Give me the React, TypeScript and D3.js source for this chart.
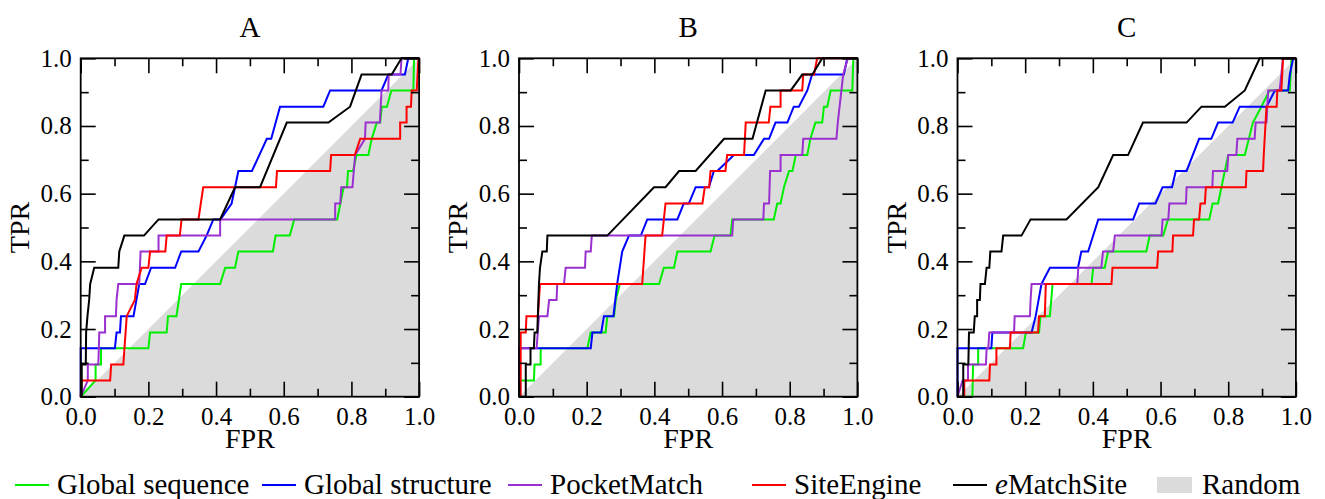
import React, { useEffect, useRef } from "react";
import * as d3 from "d3";

// panels and series
const panelNames = ["A", "B", "C"];
const seriesNames = ["Global sequence", "Global structure", "PocketMatch", "SiteEngine", "eMatchSite"];
const seriesColors = ["#00ee00", "#0000ff", "#9b30d0", "#ff0000", "#000000"];
const majorTicks = [0, 0.2, 0.4, 0.6, 0.8, 1.0];
const minorTicks = [0.1, 0.3, 0.5, 0.7, 0.9];
const randomLine = [[0, 0], [1, 1]];

// ROC points [FPR, TPR], panel A
const globalSequenceA = [[0,0],[0.044,0.048],[0.044,0.095],[0.06,0.095],[0.06,0.143],[0.2,0.143],[0.205,0.19],[0.254,0.19],[0.258,0.238],[0.283,0.238],[0.297,0.333],[0.412,0.333],[0.427,0.381],[0.456,0.381],[0.466,0.429],[0.568,0.429],[0.576,0.476],[0.618,0.476],[0.631,0.524],[0.758,0.524],[0.777,0.619],[0.787,0.619],[0.79,0.667],[0.805,0.667],[0.815,0.714],[0.85,0.714],[0.86,0.762],[0.875,0.81],[0.885,0.81],[0.89,0.857],[0.905,0.857],[0.918,0.905],[0.983,0.905],[0.985,1],[1,1]];
const globalStructureA = [[0,0],[0,0.143],[0.101,0.143],[0.106,0.19],[0.116,0.19],[0.119,0.238],[0.156,0.238],[0.173,0.333],[0.19,0.333],[0.208,0.381],[0.279,0.381],[0.297,0.429],[0.348,0.429],[0.372,0.476],[0.392,0.524],[0.413,0.524],[0.446,0.571],[0.466,0.667],[0.506,0.667],[0.55,0.762],[0.563,0.762],[0.589,0.857],[0.717,0.857],[0.737,0.905],[0.889,0.905],[0.909,0.952],[0.958,0.952],[0.968,1],[1,1]];
const pocketMatchA = [[0,0],[0.021,0.048],[0.021,0.095],[0.052,0.095],[0.055,0.19],[0.072,0.19],[0.072,0.238],[0.104,0.238],[0.106,0.286],[0.111,0.333],[0.173,0.333],[0.177,0.429],[0.23,0.429],[0.23,0.476],[0.412,0.476],[0.412,0.524],[0.752,0.524],[0.752,0.571],[0.767,0.571],[0.77,0.619],[0.803,0.619],[0.811,0.714],[0.84,0.762],[0.842,0.81],[0.884,0.81],[0.889,0.905],[0.909,0.905],[0.91,0.952],[0.945,0.952],[0.948,1],[1,1]];
const siteEngineA = [[0,0],[0.003,0.048],[0.087,0.048],[0.09,0.095],[0.126,0.095],[0.136,0.238],[0.16,0.286],[0.165,0.333],[0.18,0.381],[0.2,0.381],[0.205,0.429],[0.25,0.429],[0.254,0.476],[0.293,0.476],[0.298,0.524],[0.348,0.524],[0.362,0.619],[0.577,0.619],[0.58,0.667],[0.737,0.667],[0.74,0.714],[0.81,0.714],[0.826,0.762],[0.944,0.762],[0.944,0.81],[0.963,0.81],[0.963,0.857],[0.976,0.857],[0.978,0.905],[0.993,0.905],[0.998,1],[1,1]];
const eMatchSiteA = [[0,0],[0.003,0],[0.003,0.095],[0.015,0.095],[0.016,0.19],[0.02,0.238],[0.025,0.286],[0.028,0.333],[0.04,0.381],[0.111,0.381],[0.114,0.429],[0.129,0.476],[0.187,0.476],[0.23,0.524],[0.412,0.524],[0.456,0.619],[0.53,0.619],[0.609,0.81],[0.732,0.81],[0.796,0.857],[0.83,0.952],[0.919,0.952],[0.948,1],[1,1]];

// panel B
const globalSequenceB = [[0,0],[0,0.048],[0.044,0.048],[0.046,0.095],[0.064,0.095],[0.064,0.143],[0.202,0.143],[0.212,0.19],[0.256,0.19],[0.261,0.238],[0.281,0.238],[0.286,0.286],[0.298,0.333],[0.414,0.333],[0.428,0.381],[0.458,0.381],[0.468,0.429],[0.566,0.429],[0.578,0.476],[0.625,0.476],[0.63,0.524],[0.753,0.524],[0.763,0.571],[0.773,0.571],[0.783,0.619],[0.798,0.667],[0.808,0.667],[0.818,0.714],[0.852,0.714],[0.861,0.762],[0.876,0.81],[0.896,0.81],[0.901,0.857],[0.911,0.857],[0.921,0.905],[0.985,0.905],[0.988,1],[1,1]];
const globalStructureB = [[0,0],[0,0.143],[0.212,0.143],[0.217,0.19],[0.243,0.19],[0.251,0.238],[0.279,0.238],[0.29,0.333],[0.305,0.429],[0.325,0.476],[0.36,0.476],[0.379,0.524],[0.468,0.524],[0.487,0.571],[0.502,0.571],[0.522,0.619],[0.561,0.619],[0.576,0.667],[0.586,0.667],[0.635,0.714],[0.694,0.714],[0.724,0.762],[0.739,0.762],[0.758,0.81],[0.793,0.81],[0.812,0.857],[0.827,0.857],[0.852,0.905],[0.866,0.952],[0.96,0.952],[0.97,1],[1,1]];
const pocketMatchB = [[0,0],[0,0.143],[0.052,0.143],[0.059,0.238],[0.084,0.238],[0.089,0.286],[0.111,0.286],[0.113,0.333],[0.133,0.333],[0.138,0.381],[0.195,0.381],[0.197,0.429],[0.212,0.429],[0.215,0.476],[0.63,0.476],[0.633,0.524],[0.722,0.524],[0.724,0.571],[0.739,0.571],[0.742,0.667],[0.773,0.667],[0.773,0.714],[0.837,0.714],[0.84,0.762],[0.938,0.762],[0.942,0.81],[0.958,0.952],[0.972,1],[1,1]];
const siteEngineB = [[0,0],[0.005,0],[0.005,0.19],[0.02,0.19],[0.022,0.238],[0.056,0.238],[0.062,0.333],[0.364,0.333],[0.374,0.476],[0.423,0.476],[0.433,0.571],[0.542,0.571],[0.549,0.619],[0.562,0.619],[0.566,0.667],[0.61,0.667],[0.615,0.714],[0.665,0.714],[0.67,0.81],[0.738,0.81],[0.743,0.857],[0.773,0.857],[0.773,0.905],[0.837,0.905],[0.84,0.952],[0.872,0.952],[0.881,1],[1,1]];
const eMatchSiteB = [[0,0],[0.02,0],[0.02,0.095],[0.034,0.095],[0.034,0.143],[0.044,0.143],[0.046,0.19],[0.054,0.19],[0.059,0.333],[0.062,0.381],[0.069,0.429],[0.082,0.429],[0.084,0.476],[0.261,0.476],[0.399,0.619],[0.433,0.619],[0.473,0.667],[0.522,0.667],[0.606,0.762],[0.69,0.762],[0.729,0.905],[0.803,0.905],[0.837,0.952],[0.867,0.952],[0.896,1],[1,1]];

// panel C
const globalSequenceC = [[0,0],[0.044,0],[0.046,0.095],[0.061,0.095],[0.061,0.143],[0.194,0.143],[0.202,0.19],[0.241,0.19],[0.245,0.238],[0.273,0.238],[0.281,0.333],[0.396,0.333],[0.401,0.381],[0.435,0.381],[0.445,0.429],[0.558,0.429],[0.568,0.476],[0.608,0.476],[0.622,0.524],[0.744,0.524],[0.754,0.571],[0.77,0.571],[0.79,0.667],[0.8,0.714],[0.849,0.714],[0.873,0.81],[0.898,0.857],[0.922,0.905],[0.982,0.905],[0.987,1],[1,1]];
const globalStructureC = [[0,0],[0,0.143],[0.1,0.143],[0.103,0.19],[0.219,0.19],[0.231,0.238],[0.248,0.333],[0.273,0.381],[0.356,0.381],[0.366,0.429],[0.386,0.429],[0.416,0.524],[0.519,0.524],[0.537,0.571],[0.585,0.571],[0.606,0.619],[0.634,0.619],[0.645,0.667],[0.677,0.667],[0.714,0.762],[0.75,0.762],[0.77,0.81],[0.813,0.81],[0.834,0.857],[0.913,0.857],[0.938,0.905],[0.977,0.905],[0.982,0.952],[0.992,1],[1,1]];
const pocketMatchC = [[0,0],[0.015,0.048],[0.031,0.048],[0.031,0.095],[0.084,0.095],[0.086,0.143],[0.091,0.143],[0.094,0.19],[0.167,0.19],[0.169,0.238],[0.214,0.238],[0.216,0.286],[0.219,0.333],[0.354,0.333],[0.357,0.381],[0.425,0.381],[0.43,0.429],[0.46,0.429],[0.465,0.476],[0.603,0.476],[0.606,0.524],[0.623,0.524],[0.626,0.571],[0.675,0.571],[0.677,0.619],[0.753,0.619],[0.755,0.667],[0.797,0.667],[0.8,0.714],[0.824,0.714],[0.827,0.762],[0.878,0.762],[0.881,0.81],[0.913,0.81],[0.918,0.905],[0.952,0.905],[0.962,1],[1,1]];
const siteEngineC = [[0,0],[0.02,0],[0.02,0.048],[0.094,0.048],[0.096,0.095],[0.115,0.095],[0.115,0.143],[0.155,0.143],[0.157,0.19],[0.238,0.19],[0.241,0.238],[0.258,0.238],[0.261,0.333],[0.455,0.333],[0.458,0.381],[0.59,0.381],[0.593,0.429],[0.635,0.429],[0.637,0.476],[0.696,0.476],[0.699,0.524],[0.714,0.524],[0.718,0.571],[0.731,0.571],[0.734,0.619],[0.852,0.619],[0.854,0.667],[0.903,0.667],[0.905,0.714],[0.913,0.857],[0.943,0.857],[0.945,0.905],[0.957,0.905],[0.962,1],[1,1]];
const eMatchSiteC = [[0,0],[0.017,0],[0.017,0.095],[0.032,0.095],[0.034,0.19],[0.048,0.19],[0.051,0.238],[0.058,0.238],[0.058,0.286],[0.066,0.286],[0.068,0.333],[0.081,0.333],[0.086,0.381],[0.094,0.381],[0.097,0.429],[0.13,0.429],[0.135,0.476],[0.189,0.476],[0.216,0.524],[0.322,0.524],[0.416,0.619],[0.46,0.714],[0.504,0.714],[0.548,0.81],[0.677,0.81],[0.721,0.857],[0.79,0.857],[0.849,0.905],[0.893,1],[1,1]];

const panelCurves = [
  [globalSequenceA, globalStructureA, pocketMatchA, siteEngineA, eMatchSiteA],
  [globalSequenceB, globalStructureB, pocketMatchB, siteEngineB, eMatchSiteB],
  [globalSequenceC, globalStructureC, pocketMatchC, siteEngineC, eMatchSiteC],
];

const FONT = "'Liberation Serif', 'Times New Roman', serif";
const GREY = "#dbdbdb";

export default function App() {
  const ref = useRef<SVGSVGElement>(null);

  useEffect(() => {
    if (!ref.current) return;
    document.body.style.margin = "0";
    const svg = d3.select(ref.current);
    svg.selectAll("*").remove();

    const size = 338.4;
    const top = 58.3;
    const panelLeft = [80.7, 519, 957.5];

    panelNames.forEach((name, p) => {
      const left = panelLeft[p];
      const x = d3.scaleLinear().domain([0, 1]).range([left, left + size]);
      const y = d3.scaleLinear().domain([0, 1]).range([top + size, top]);
      const g = svg.append("g");

      const area = d3.area<number[]>()
        .x(d => x(d[0]))
        .y0(y(0))
        .y1(d => y(d[1]));
      g.append("path").datum(randomLine).attr("d", area).attr("fill", GREY);

      const line = d3.line<number[]>().x(d => x(d[0])).y(d => y(d[1]));
      panelCurves[p].forEach((pts, i) => {
        g.append("path")
          .datum(pts)
          .attr("d", line)
          .attr("fill", "none")
          .attr("stroke", seriesColors[i])
          .attr("stroke-width", 2)
          .attr("stroke-linejoin", "miter");
      });

      // inward ticks on all four sides
      const addAxis = (axis: any, tx: number, ty: number, labels: boolean) => {
        const a = g.append("g").attr("transform", `translate(${tx},${ty})`).call(axis);
        a.select(".domain").remove();
        a.selectAll("line").attr("stroke-width", 1.6);
        a.attr("font-family", FONT).attr("font-size", 25);
        a.selectAll("text").attr("fill", "#000");
        if (!labels) a.selectAll("text").remove();
      };
      const fmt = d3.format(".1f");
      addAxis(d3.axisBottom(x).tickValues(majorTicks).tickSize(-15).tickPadding(11).tickFormat(fmt as any), 0, y(0), true);
      addAxis(d3.axisBottom(x).tickValues(minorTicks).tickSize(-8), 0, y(0), false);
      addAxis(d3.axisTop(x).tickValues(majorTicks).tickSize(-15), 0, y(1), false);
      addAxis(d3.axisTop(x).tickValues(minorTicks).tickSize(-8), 0, y(1), false);
      addAxis(d3.axisLeft(y).tickValues(majorTicks).tickSize(-15).tickPadding(9).tickFormat(fmt as any), x(0), 0, true);
      addAxis(d3.axisLeft(y).tickValues(minorTicks).tickSize(-8), x(0), 0, false);
      addAxis(d3.axisRight(y).tickValues(majorTicks).tickSize(-15), x(1), 0, false);
      addAxis(d3.axisRight(y).tickValues(minorTicks).tickSize(-8), x(1), 0, false);

      g.append("rect")
        .attr("x", x(0)).attr("y", y(1))
        .attr("width", size).attr("height", size)
        .attr("fill", "none").attr("stroke", "#000").attr("stroke-width", 1.8);

      g.append("text")
        .attr("x", (x(0) + x(1)) / 2).attr("y", 37)
        .attr("text-anchor", "middle")
        .attr("font-family", FONT).attr("font-size", 29)
        .text(name);

      g.append("text")
        .attr("x", (x(0) + x(1)) / 2).attr("y", 448)
        .attr("text-anchor", "middle")
        .attr("font-family", FONT).attr("font-size", 28)
        .text("FPR");

      g.append("text")
        .attr("transform", `translate(${x(0) - 52},${(y(0) + y(1)) / 2}) rotate(-90)`)
        .attr("text-anchor", "middle")
        .attr("font-family", FONT).attr("font-size", 28)
        .text("TPR");
    });

    // legend
    const legendX = [15, 262, 508, 752, 953, 1157];
    const ly = 485;
    const legend = svg.append("g").attr("font-family", FONT).attr("font-size", 29);
    seriesNames.forEach((s, i) => {
      const lx = legendX[i];
      legend.append("line")
        .attr("x1", lx).attr("x2", lx + 34)
        .attr("y1", ly).attr("y2", ly)
        .attr("stroke", seriesColors[i]).attr("stroke-width", 2);
      const t = legend.append("text").attr("x", lx + 42).attr("y", ly + 9);
      if (s === "eMatchSite") {
        t.append("tspan").attr("font-style", "italic").text("e");
        t.append("tspan").text("MatchSite");
      } else {
        t.text(s);
      }
    });
    const rx = legendX[5];
    legend.append("rect")
      .attr("x", rx).attr("y", ly - 8)
      .attr("width", 35).attr("height", 16)
      .attr("fill", GREY);
    legend.append("text").attr("x", rx + 45).attr("y", ly + 9).text("Random");
  }, []);

  return <svg ref={ref} width={1325} height={499} style={{ display: "block" }} />;
}
